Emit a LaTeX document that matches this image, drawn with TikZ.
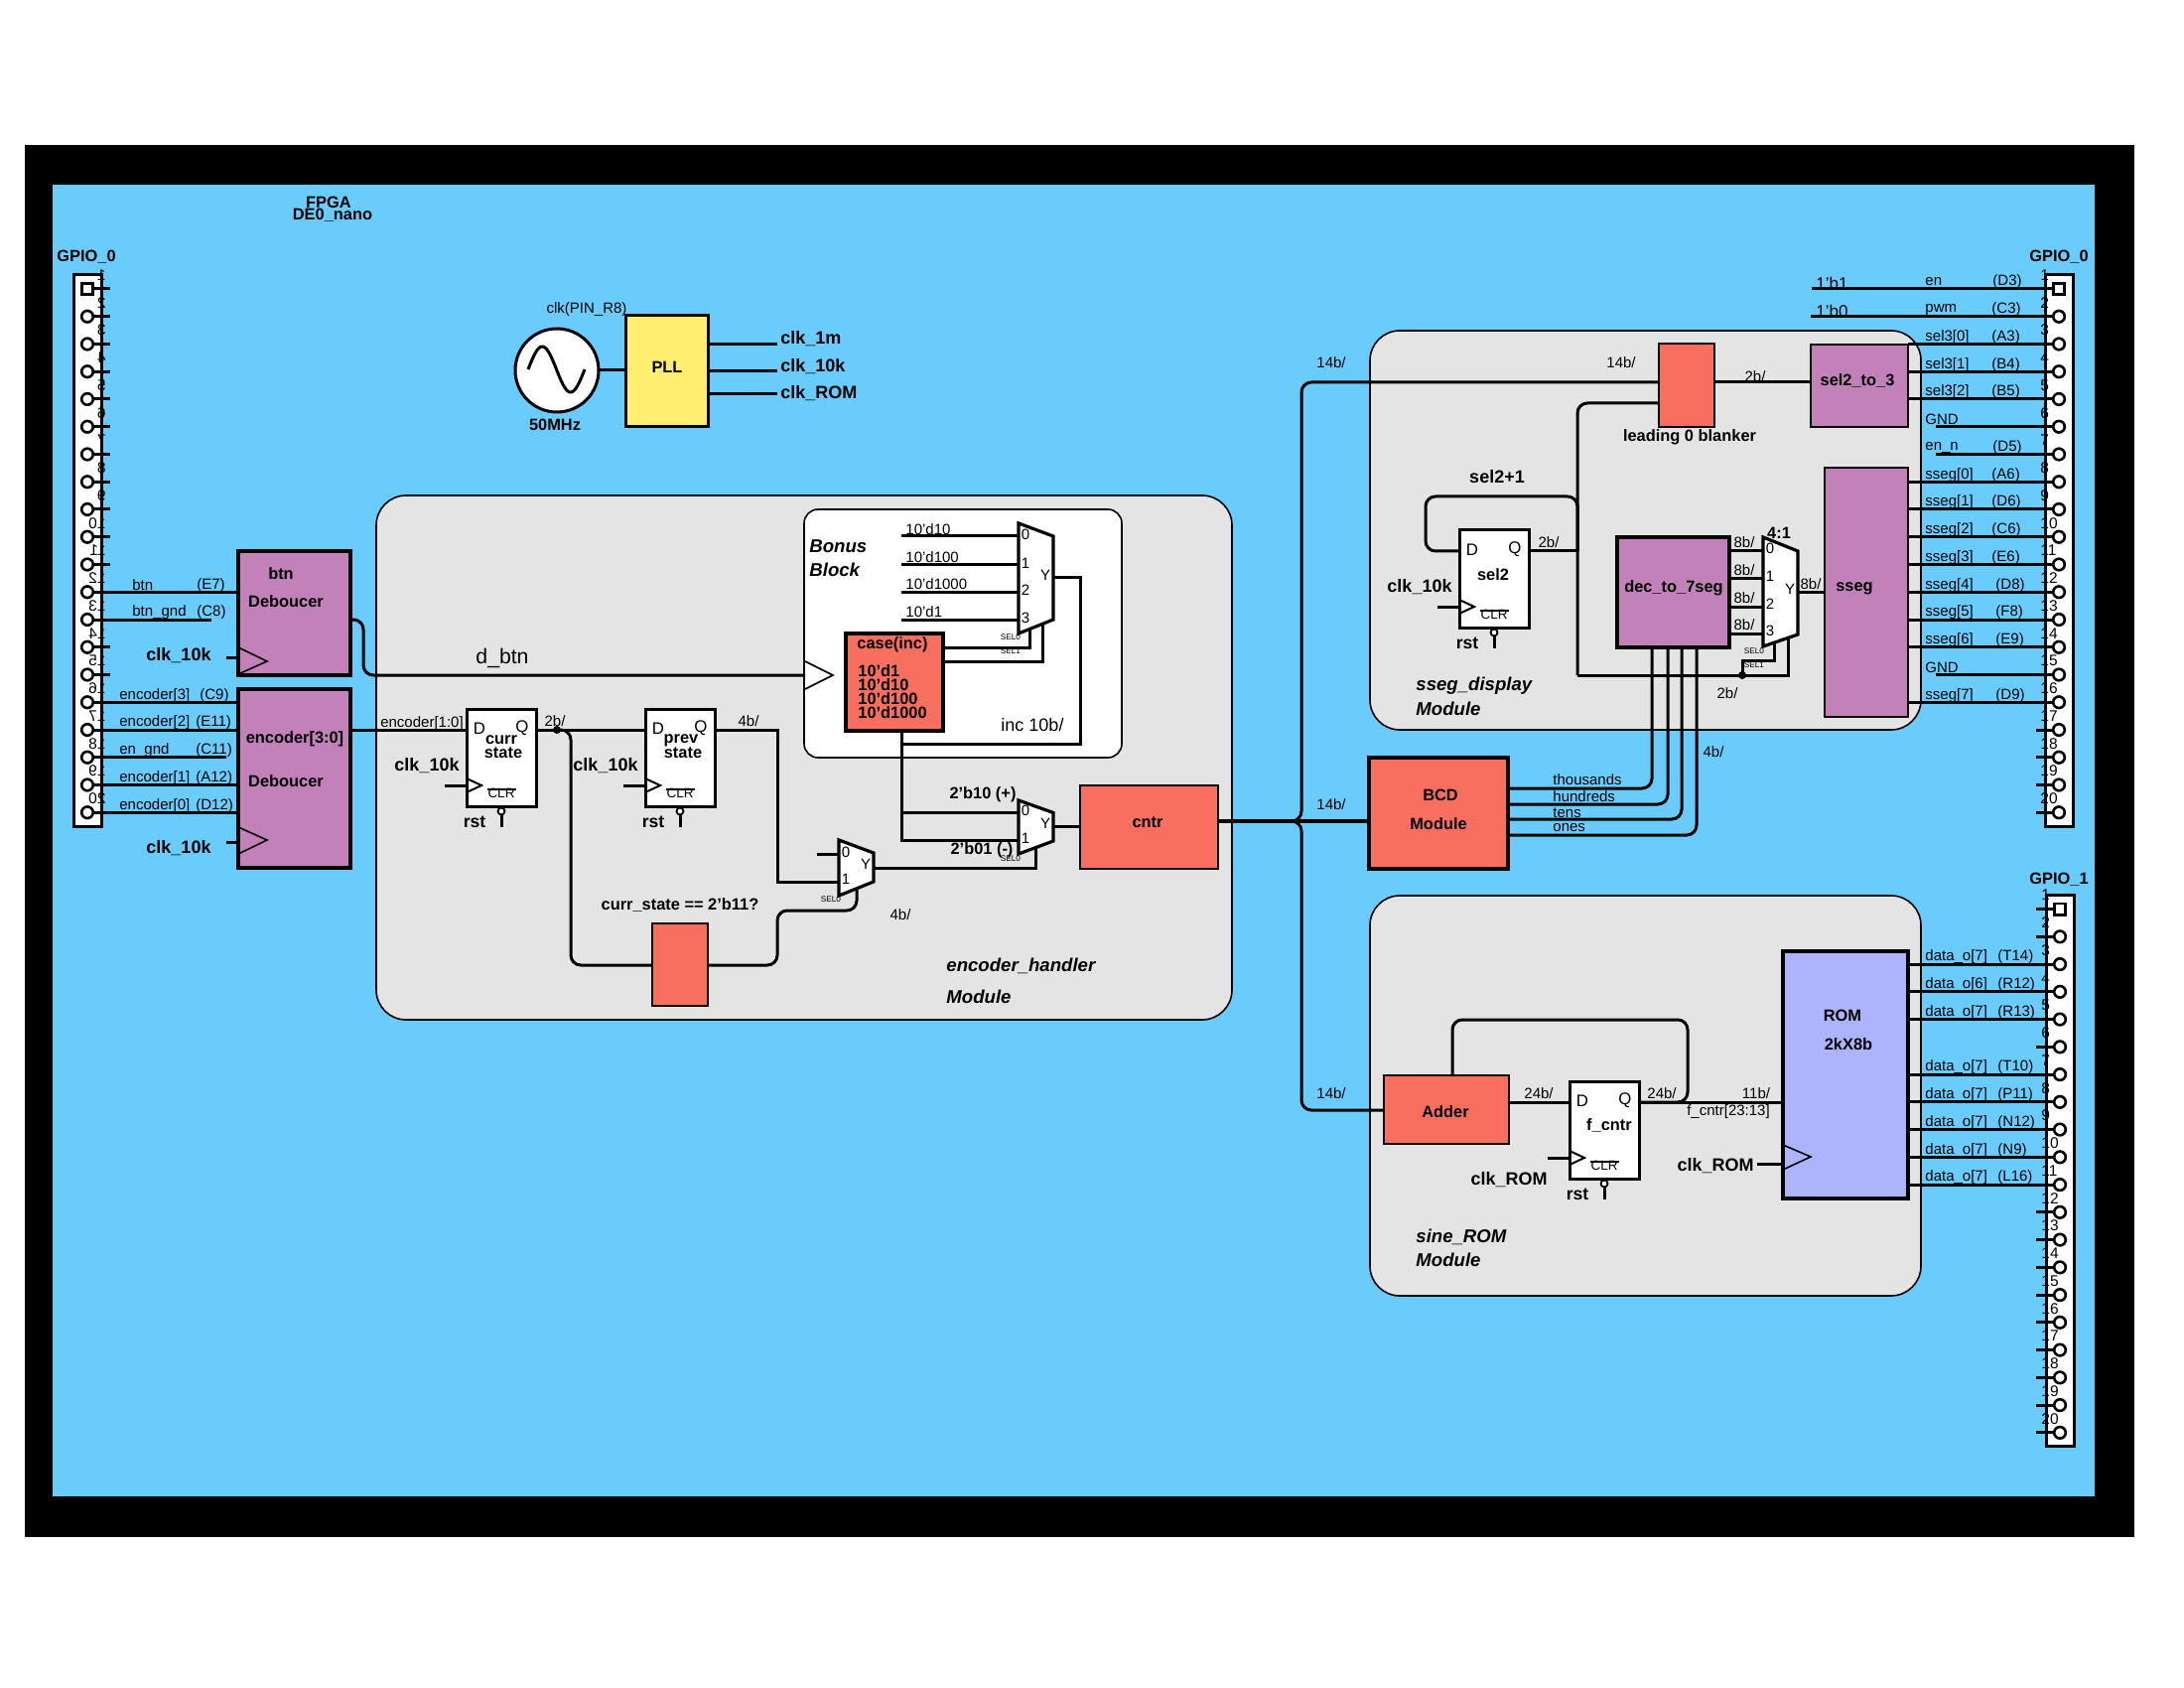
\documentclass[tikz,border=0pt]{standalone}
\usepackage{fontspec}
\setmainfont{Liberation Sans}
\usetikzlibrary{fit}
\definecolor{boardblue}{HTML}{69CCFD}
\definecolor{panelgray}{HTML}{E4E4E4}
\definecolor{blockpurple}{HTML}{C281B9}
\definecolor{blockred}{HTML}{F96F5F}
\definecolor{blockyellow}{HTML}{FFEE6F}
\definecolor{blockrom}{HTML}{AEB4FB}
\tikzset{
  wire/.style={line width=1.5pt},
  rwire/.style={wire,rounded corners=5pt},
  thinl/.style={line width=.8pt},
  blk/.style={draw,line width=1.6pt,inner sep=0pt,outer sep=0pt},
  purpleblk/.style={blk,fill=blockpurple},
  slimpurple/.style={purpleblk,line width=1.15pt},
  redblk/.style={blk,fill=blockred},
  thinred/.style={redblk,line width=1pt},
  panel/.style={draw,line width=.8pt,fill=panelgray,rounded corners=15pt,inner sep=0pt,outer sep=0pt},
  muxbody/.style={draw,line width=1.6pt,fill=white},
  txt/.style={inner sep=0pt,yshift=-.7pt,font=\fontsize{7.5}{9}\selectfont},
  big/.style={inner sep=0pt,yshift=-.7pt,font=\fontsize{9}{11}\selectfont},
  sellbl/.style={inner sep=0pt,font=\fontsize{4.1}{5}\selectfont},
  lbl/.style={inner sep=0pt,yshift=-.7pt,font=\fontsize{8.2}{10}\selectfont\bfseries},
  clklbl/.style={inner sep=0pt,yshift=-.7pt,font=\fontsize{9}{11}\selectfont\bfseries},
  itlbl/.style={inner sep=0pt,yshift=-.7pt,font=\fontsize{9.3}{11}\selectfont\bfseries\itshape},
  pinnum/.style={inner sep=0pt,font=\fontsize{7.75}{9}\selectfont},
  pinround/.style={circle,draw,line width=1.3pt,inner sep=0pt,minimum size=5.8pt,outer sep=0pt},
  pinsquare/.style={rectangle,draw,line width=1.3pt,inner sep=0pt,minimum size=5.6pt,outer sep=0pt},
}
\newcommand{\clrtxt}{\makebox[0pt][l]{\kern-.5pt\rule[3.7pt]{14.5pt}{.6pt}}CLR}
\newcommand{\dff}[3]{
  \begin{scope}[shift={(#2,#3)}]
    \node[blk,fill=white,line width=1.5pt,minimum width=35pt,minimum height=49pt,anchor=north west] (#1) at (0,0) {};
    \coordinate (#1d) at (0,21);
    \coordinate (#1q) at (70,21);
    \coordinate (#1clk) at (0,77);
    \coordinate (#1c) at (-22,77);
    \coordinate (#1rt) at (35,119);
    \node[txt,font=\fontsize{8.4}{9}\selectfont] (#1dl) at (13,18) {D};
    \node[txt,font=\fontsize{8.4}{9}\selectfont] (#1ql) at (56,18) {Q};
    \node[txt,font=\fontsize{6.75}{8}\selectfont] (#1clr) at (35,83) {\clrtxt};
    \node[circle,draw,fill=white,line width=.9pt,inner sep=0pt,minimum size=3.5pt,outer sep=0pt] (#1rb) at (35,103) {};
    \node[lbl,font=\fontsize{8.8}{10}\selectfont\bfseries] (#1rst) at (8,112) {rst};
    \draw[thinl,line width=1pt] (0,70) -- (15,77) -- (0,84);
    \draw[wire] (#1c) -- (#1clk);
    \draw[wire] (#1rb) -- (#1rt);
  \end{scope}
}
\newcommand{\gpiopins}[3]{
  \node[draw,fill=white,line width=1.5pt,inner sep=0pt,outer sep=0pt,fit={(#2-14,#3-14) (#2+14,#3+541)}] (#1box) {};
  \foreach \n in {1,...,20}{
    \ifnum\n=1
      \node[pinsquare] (#1\n) at (#2,{#3+27.75*(\n-1)}) {};
    \else
      \node[pinround] (#1\n) at (#2,{#3+27.75*(\n-1)}) {};
    \fi
  }
}
\begin{document}
\begin{tikzpicture}[x=.5pt,y=-.5pt]
  \useasboundingbox (0,0) rectangle (2200,1700);
  \fill[white] (0,0) rectangle (2200,1700);
  \fill[black] (25,146) rectangle (2150,1548);
  \fill[boardblue] (53,186) rectangle (2110,1507);

  \node[lbl] (fpga) at (331,202) {FPGA};
  \node[lbl] (board) at (335,215) {DE0\_nano};
  \node[lbl] (gl) at (87,257) {GPIO\_0};
  \node[lbl] (gr) at (2074,257) {GPIO\_0};
  \node[lbl] (gs) at (2074,884) {GPIO\_1};

  \node[panel,fit={(379,499) (1241,1027)}] (handler) {};
  \node[panel,fit={(1380,333) (1935,735)}] (display) {};
  \node[panel,fit={(1380,902) (1935,1305)}] (rompanel) {};
  \node[panel,fill=white,rounded corners=7pt,fit={(810,513) (1130,763)}] (bonus) {};

  \gpiopins{gpl}{88}{291}
  \gpiopins{gpr}{2074}{291}
  \gpiopins{gps}{2075}{915.6}
  \foreach \n in {1,...,20}{
    \node[pinnum,anchor=east] (gpln\n) at (107,{291+27.75*(\n-1)-14}) {\scalebox{-1}[1]{\n}};
    \node[pinnum,anchor=west] (gprn\n) at (2055,{291+27.75*(\n-1)-14}) {\n};
    \node[pinnum,anchor=west] (gpsn\n) at (2056,{915.6+27.75*(\n-1)-14}) {\n};
  }
  \foreach \n in {1,...,11,14,15}{
    \draw[wire] (gpl\n) -- ++(23,0);
  }
  \foreach \n in {17,...,20}{
    \draw[wire] (gpr\n) -- ++(-23,0);
  }
  \foreach \n in {1,2,6,12,13,...,20}{
    \draw[wire] (gps\n) -- ++(-24,0);
  }

  \node[circle,draw,fill=white,line width=1.5pt,inner sep=0pt,outer sep=0pt,minimum size=42pt] (osc) at (561,373) {};
  \draw[wire] plot[domain=0:360,samples=40,smooth] ({532+57*(\x/360)},{372-23*sin(\x)});
  \node[txt] (clkpin) at (591,310) {clk(PIN\_R8)};
  \node[lbl] (oscf) at (559,426) {50MHz};
  \node[blk,fill=blockyellow,line width=1.5pt,fit={(630,318) (713,430)}] (pll) {};
  \node[lbl] (plltxt) at (672,368) {PLL};
  \coordinate (clkaend) at (783,347);
  \coordinate (clkbend) at (783,374);
  \coordinate (clkcend) at (783,397);
  \node[clklbl,anchor=west] (clka) at (786,340) {clk\_1m};
  \node[clklbl,anchor=west] (clkb) at (786,368) {clk\_10k};
  \node[clklbl,anchor=west] (clkc) at (786,395) {clk\_ROM};
  \draw[wire] (osc) -- (pll.west |- osc);
  \draw[wire] (pll.east |- clkaend) -- (clkaend);
  \draw[wire] (pll.east |- clkbend) -- (clkbend);
  \draw[wire] (pll.east |- clkcend) -- (clkcend);

  \node[purpleblk,fit={(240,555) (353,680)}] (btnd) {};
  \node[lbl] (btndA) at (283,576) {btn};
  \node[lbl] (btndB) at (288,604) {Deboucer};
  \node[clklbl] (btndC) at (180,659) {clk\_10k};
  \draw[thinl] (240,652) -- (269,666) -- (240,679);
  \coordinate (btndclk) at (228,662);
  \draw[wire] (btndclk) -- (btnd.west |- btndclk);

  \node[purpleblk,fit={(240,694) (353,874)}] (encd) {};
  \node[lbl] (encdA) at (297,743) {encoder[3:0]};
  \node[lbl] (encdB) at (288,785) {Deboucer};
  \node[clklbl] (encdC) at (180,853) {clk\_10k};
  \draw[thinl] (240,833) -- (269,846) -- (240,860);
  \coordinate (encdclk) at (228,848);
  \draw[wire] (encdclk) -- (encd.west |- encdclk);

  \foreach \n/\sig/\sx/\pin/\px in {12/btn/133/E7/198,13/btn\_gnd/133/C8/198,16/encoder[3]/120/C9/201,17/encoder[2]/120/E11/197,18/en\_gnd/120/C11/197,19/encoder[1]/120/A12/197,20/encoder[0]/120/D12/197}{
    \node[txt,anchor=west,yshift=4.2pt] (gpls\n) at (\sx,0 |- gpl\n) {\sig};
    \node[txt,anchor=west,yshift=4.2pt] (gplp\n) at (\px,0 |- gpl\n) {(\pin)};
  }
  \coordinate (btngnd) at (213,0 |- gpl13);
  \coordinate (engnd) at (228,0 |- gpl18);
  \draw[wire] (gpl12) -- (btnd.west |- gpl12);
  \draw[wire] (gpl13) -- (btngnd);
  \draw[wire] (gpl18) -- (engnd);
  \foreach \n in {16,17,19,20}{
    \draw[wire] (gpl\n) -- (encd.west |- gpl\n);
  }

  \dff{curr}{470}{714}
  \node[lbl] (currA) at (505,744) {curr};
  \node[lbl] (currB) at (507,757) {state};
  \node[clklbl] (currC) at (430,770) {clk\_10k};
  \dff{prev}{650}{714}
  \node[lbl] (prevA) at (686,744) {prev};
  \node[lbl] (prevB) at (688,757) {state};
  \node[clklbl] (prevC) at (610,770) {clk\_10k};
  \node[txt] (encbus) at (425,727) {encoder[1:0]};
  \node[txt] (currw) at (559,725) {2b/};
  \node[txt] (prevw) at (754,725) {4b/};
  \node[big,font=\fontsize{10.6}{12}\selectfont] (dbtn) at (506,662) {d\_btn};

  \node[redblk,line width=1pt,fit={(657,930) (713,1013)}] (cmp) {};
  \node[lbl] (cmptxt) at (685,910) {curr\_state == 2'b11?};

  \draw[muxbody] (845,846) -- (880,859) -- (880,888) -- (845,902) -- cycle;
  \coordinate (msa) at (845,860);
  \coordinate (msb) at (845,888);
  \coordinate (msy) at (880,874);
  \coordinate (mss) at (863,895);
  \coordinate (msstub) at (823,860);
  \node[txt] (msA) at (852,857) {0};
  \node[txt] (msB) at (852,884) {1};
  \node[txt] (msC) at (872,869) {Y};
  \node[sellbl] (msD) at (837,906) {SEL0};

  \draw[muxbody] (1026,806) -- (1061,818.5) -- (1061,847) -- (1026,860) -- cycle;
  \coordinate (mca) at (1026,818.5);
  \coordinate (mcb) at (1026,846);
  \coordinate (mcy) at (1061,832);
  \coordinate (mcs) at (1043,854);
  \node[txt] (mcA) at (1033,815) {0};
  \node[txt] (mcB) at (1033,843) {1};
  \node[txt] (mcC) at (1053,828) {Y};
  \node[sellbl] (mcD) at (1018,865) {SEL0};
  \node[lbl] (plus) at (990,799) {2'b10 (+)};
  \node[lbl] (minus) at (989,855) {2'b01 (-)};
  \node[txt] (mcw) at (907,920) {4b/};

  \node[redblk,line width=1.15pt,fit={(1088,791) (1227,875)}] (cntr) {};
  \node[lbl] (cntrtxt) at (1156,827) {cntr};

  \draw[muxbody] (1026,527) -- (1061,540) -- (1061,624) -- (1026,638) -- cycle;
  \coordinate (mby) at (1061,582);
  \coordinate (mbs) at (1037,633);
  \coordinate (mbt) at (1050,628);
  \foreach \n/\val/\w/\t in {0/10'd10/540/532,1/10'd100/569/560,2/10'd1000/596.5/587,3/10'd1/624/615}{
    \coordinate (mbi\n) at (1026,\w);
    \coordinate (mbf\n) at (908,\w);
    \node[txt,anchor=west] (mbv\n) at (912,\t) {\val};
    \node[txt] (mbn\n) at (1033,{\w-3.5}) {\n};
    \draw[wire] (mbf\n) -- (mbi\n);
  }
  \node[txt] (mbC) at (1053,578) {Y};
  \node[sellbl] (mbD) at (1018,642) {SEL0};
  \node[sellbl] (mbE) at (1018,656) {SEL1};
  \node[itlbl,anchor=west] (bonusA) at (815,549) {Bonus};
  \node[itlbl,anchor=west] (bonusB) at (815,572) {Block};
  \node[big] (incw) at (1040,729) {inc 10b/};

  \node[redblk,fit={(852,638) (950,736)}] (casebx) {};
  \node[lbl,anchor=west] (caseA) at (863,648) {case(inc)};
  \foreach \n/\val/\t in {1/10'd1/674,2/10'd10/688,3/10'd100/702,4/10'd1000/716}{
    \node[lbl,anchor=west] (caseL\n) at (864,\t) {\val};
  }

  \node[itlbl,anchor=west] (handA) at (953,971) {encoder\_handler};
  \node[itlbl,anchor=west] (handB) at (953,1002) {Module};

  \draw[rwire] (btnd.east |- 0,624) -- (366,624) -- (366,680) -- (811,680);
  \draw[thinl] (811,666) -- (839,680) -- (811,694);
  \draw[wire] (encd.east |- currd) -- (currd);
  \draw[wire] (currq) -- (prevd);
  \fill (561,735) circle (4);
  \draw[rwire] (561,735) -- (575,735) -- (575,972) -- (cmp.west |- 0,972);
  \draw[wire] (prevq) -- (783,735) -- (783,888) -- (msb);
  \draw[wire] (msstub) -- (msa);
  \draw[rwire] (cmp.east |- 0,972) -- (783,972) -- (783,917) -- (863,917) -- (mss);
  \draw[wire] (msy) -- (1043,874) -- (mcs);
  \draw[wire] (casebx.south -| 908,0) -- (908,846) -- (mcb);
  \draw[wire] (908,818.5) -- (mca);
  \draw[wire] (908,749) -- (1088,749) -- (1088,582) -- (mby);
  \draw[wire] (mcy) -- (cntr.west |- mcy);
  \draw[wire] (casebx.east |- 0,652) -- (1037,652) -- (mbs);
  \draw[wire] (casebx.east |- 0,666) -- (1050,666) -- (mbt);

  \node[thinred,fit={(1671,346) (1727,430)}] (blanker) {};
  \node[lbl] (blankertxt) at (1702,439) {leading 0 blanker};
  \node[slimpurple,fit={(1824,347) (1922,430)}] (seltt) {};
  \node[lbl] (selttxt) at (1871,382) {sel2\_to\_3};
  \node[slimpurple,fit={(1838,471) (1922,722)}] (sseg) {};
  \node[lbl] (ssegtxt) at (1868,591) {sseg};
  \node[purpleblk,fit={(1629,541) (1742,652)}] (dec) {};
  \node[lbl] (dectxt) at (1686,591) {dec\_to\_7seg};
  \dff{sel}{1470}{534}
  \node[lbl] (seltxt) at (1504,577) {sel2};
  \node[clklbl] (selC) at (1430,590) {clk\_10k};
  \node[clklbl] (selnext) at (1508,479) {sel2+1};
  \node[txt] (selw) at (1560,545) {2b/};
  \node[itlbl,anchor=west] (dispA) at (1426,689) {sseg\_display};
  \node[itlbl,anchor=west] (dispB) at (1426,712) {Module};

  \draw[muxbody] (1776,541) -- (1811,555) -- (1811,639) -- (1776,651) -- cycle;
  \coordinate (mdy) at (1811,597);
  \coordinate (mds) at (1787,647);
  \coordinate (mdt) at (1801,642);
  \foreach \n/\w in {0/555,1/583,2/611,3/638}{
    \coordinate (mdi\n) at (1776,\w);
    \node[txt] (mdn\n) at (1783,{\w-4}) {\n};
    \node[txt] (mdw\n) at (1757,{\w-10}) {8b/};
    \draw[wire] (dec.east |- mdi\n) -- (mdi\n);
  }
  \node[txt] (mdC) at (1803,592) {Y};
  \node[sellbl] (mdD) at (1767,656) {SEL0};
  \node[sellbl] (mdE) at (1767,670) {SEL1};
  \node[lbl] (mdF) at (1792,535) {4:1};
  \node[txt] (mdw) at (1824,587) {8b/};
  \node[txt] (mdsw) at (1740,697) {2b/};

  \node[redblk,fit={(1379,763) (1519,875)}] (bcd) {};
  \node[lbl] (bcdA) at (1451,799) {BCD};
  \node[lbl] (bcdB) at (1449,828) {Module};
  \foreach \n/\sig/\x/\w/\t in {a/thousands/1664/794/784,b/hundreds/1680/810/801,c/tens/1694/825/817.5,d/ones/1709/841/832}{
    \node[txt,anchor=west] (bcdl\n) at (1564,\t) {\sig};
    \draw[rwire] (bcd.east |- 0,\w) -- (\x,\w) -- (dec.south -| \x,0);
  }
  \node[txt] (bcdw) at (1726,756) {4b/};

  \coordinate (trunk) at (1290,827);
  \node[txt] (trunkA) at (1341,364) {14b/};
  \node[txt] (trunkB) at (1633,364) {14b/};
  \node[txt] (trunkC) at (1341,809) {14b/};
  \node[txt] (trunkD) at (1341,1100) {14b/};
  \node[txt] (blankw) at (1768,378) {2b/};
  \draw[wire,line width=1.7pt] (cntr.east |- trunk) -- (trunk) -- (bcd.west |- trunk);
  \draw[rwire] (trunk) -- (1311,827) -- (1311,385) -- (blanker.west |- 0,385);
  \draw[rwire] (trunk) -- (1311,827) -- (1311,1118) -- (1394,1118);
  \draw[wire] (blanker.east |- 0,385) -- (seltt.west |- 0,385);
  \draw[rwire] (blanker.west |- 0,406) -- (1589,406) -- (1589,680);
  \draw[wire] (1589,680) -- (1801,680) -- (mdt);
  \draw[wire] (selq) -- (1589,555);
  \draw[rwire] (seld) -- (1436,555) -- (1436,500) -- (1589,500) -- (1589,555);
  \fill (1755,680) circle (4);
  \draw[wire] (1755,680) -- (1755,665) -- (1787,665) -- (mds);
  \draw[wire] (mdy) -- (sseg.west |- mdy);

  \node[txt,font=\fontsize{8.5}{10}\selectfont,anchor=west] (tieA) at (1829,284) {1'b1};
  \node[txt,font=\fontsize{8.5}{10}\selectfont,anchor=west] (tieB) at (1829,312) {1'b0};
  \coordinate (tieAend) at (1825,0 |- gpr1);
  \coordinate (tieBend) at (1824,0 |- gpr2);
  \draw[wire] (tieAend) -- (gpr1);
  \draw[wire] (tieBend) -- (gpr2);
  \foreach \n/\sig/\pin/\px in {1/en/D3/2007,2/pwm/C3/2006,3/sel3[0]/A3/2006,4/sel3[1]/B4/2006,5/sel3[2]/B5/2006,7/en\_n/D5/2007,8/sseg[0]/A6/2006,9/sseg[1]/D6/2006,10/sseg[2]/C6/2006,11/sseg[3]/E6/2006,12/sseg[4]/D8/2010,13/sseg[5]/F8/2010,14/sseg[6]/E9/2010,16/sseg[7]/D9/2010}{
    \node[txt,anchor=west,yshift=4.2pt] (gprs\n) at (1939,0 |- gpr\n) {\sig};
    \node[txt,anchor=west,yshift=4.2pt] (gprp\n) at (\px,0 |- gpr\n) {(\pin)};
  }
  \foreach \n in {6,15}{
    \node[txt,anchor=west,yshift=4.2pt] (gprs\n) at (1939,0 |- gpr\n) {GND};
  }
  \foreach \n in {6,7,15}{
    \coordinate (gprf\n) at (1950,0 |- gpr\n);
    \draw[wire] (gprf\n) -- (gpr\n);
  }
  \foreach \n in {3,4,5}{
    \draw[wire] (seltt.east |- gpr\n) -- (gpr\n);
  }
  \foreach \n in {8,...,14,16}{
    \draw[wire] (sseg.east |- gpr\n) -- (gpr\n);
  }

  \node[thinred,fit={(1394,1083) (1520,1152)}] (adder) {};
  \node[lbl] (addertxt) at (1456,1118) {Adder};
  \dff{fcn}{1581}{1089}
  \node[lbl] (fcntxt) at (1621,1132) {f\_cntr};
  \node[clklbl] (fcnC) at (1520,1187) {clk\_ROM};
  \node[txt] (addw) at (1550,1100) {24b/};
  \node[txt] (fcnw) at (1674,1100) {24b/};
  \node[txt] (romw) at (1769,1100) {11b/};
  \node[txt] (rombus) at (1741,1118) {f\_cntr[23:13]};
  \node[itlbl,anchor=west] (romA) at (1426,1244) {sine\_ROM};
  \node[itlbl,anchor=west] (romB) at (1426,1267) {Module};

  \node[blk,fill=blockrom,fit={(1796,958) (1922,1207)}] (rom) {};
  \node[lbl] (romtxtA) at (1856,1021) {ROM};
  \node[lbl] (romtxtB) at (1862,1050) {2kX8b};
  \node[clklbl] (romC) at (1728,1173) {clk\_ROM};
  \draw[thinl] (1796,1153) -- (1824,1165) -- (1796,1178);
  \coordinate (romclk) at (1770,1172);
  \draw[wire] (romclk) -- (rom.west |- romclk);

  \draw[wire] (adder.east |- fcnd) -- (fcnd);
  \draw[wire] (fcnq) -- (rom.west |- fcnq);
  \draw[rwire] (fcnq) -- (1700,1110) -- (1700,1027) -- (1463,1027) -- (1463,1083);

  \foreach \n/\sig/\pin in {3/7/T14,4/6/R12,5/7/R13,7/7/T10,8/7/P11,9/7/N12,10/7/N9,11/7/L16}{
    \node[txt,anchor=west,yshift=4.2pt] (gpss\n) at (1939,0 |- gps\n) {data\_o[\sig]};
    \node[txt,anchor=west,yshift=4.2pt] (gpsp\n) at (2012,0 |- gps\n) {(\pin)};
    \draw[wire] (rom.east |- gps\n) -- (gps\n);
  }
\end{tikzpicture}
\end{document}
